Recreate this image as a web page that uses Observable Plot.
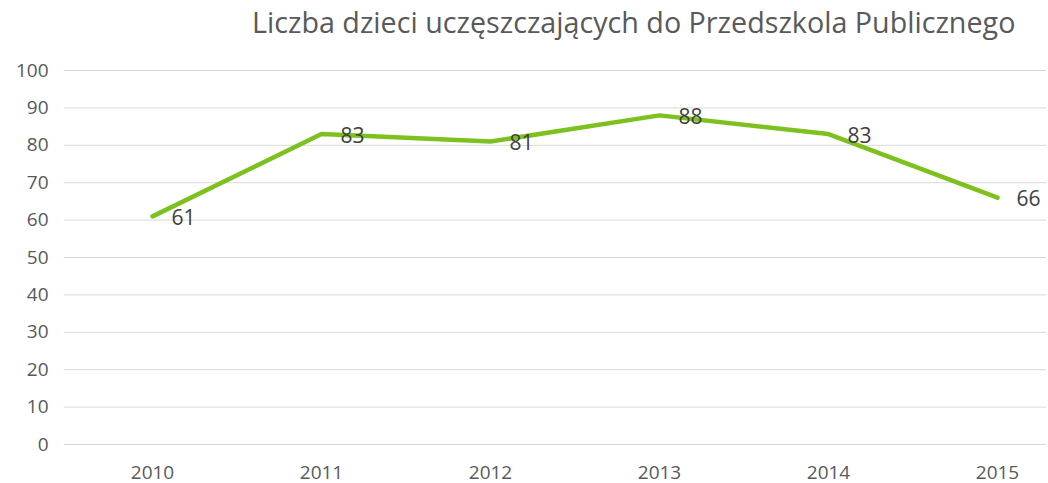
<!DOCTYPE html>
<html>
<head>
<meta charset="utf-8">
<script src="https://cdn.jsdelivr.net/npm/d3@7"></script>
<script src="https://cdn.jsdelivr.net/npm/@observablehq/plot@0.6"></script>
<style>
  html, body { margin: 0; padding: 0; background: #fff; overflow: hidden; }
  #title { height: 45px; width: 1048px; box-sizing: border-box; padding-left: 252px; padding-top: 2px;
           font-family: "Open Sans", sans-serif; font-size: 28.7px; color: #595959; white-space: nowrap; }
  svg { overflow: visible; }
</style>
</head>
<body>
<div id="title">Liczba dzieci uczęszczających do Przedszkola Publicznego</div>
<div id="chart"></div>
<script>
const years = ["2010", "2011", "2012", "2013", "2014", "2015"];
const counts = [61, 83, 81, 88, 83, 66];
const yTicks = [0, 10, 20, 30, 40, 50, 60, 70, 80, 90, 100];

const data = years.map((y, i) => ({year: y, value: counts[i]}));

const chart = Plot.plot({
  width: 1048,
  height: 438,
  marginLeft: 64,
  marginRight: 2,
  marginTop: 25,
  marginBottom: 39,
  style: {fontFamily: "Open Sans, sans-serif", background: "#fff"},
  x: {type: "point", domain: years, padding: 0.395, align: 0.642},
  y: {domain: [0, 100]},
  marks: [
    Plot.ruleY(yTicks, {stroke: "#d9d9d9", strokeWidth: 1}),
    Plot.axisY(yTicks, {tickSize: 0, tickPadding: 16, fontSize: 19, fill: "#595959", label: null}),
    Plot.axisX({tickSize: 0, tickPadding: 21, fontSize: 19, fill: "#595959", label: null}),
    Plot.line(data, {x: "year", y: "value", stroke: "#7dc11f", strokeWidth: 4.5, strokeLinejoin: "round", strokeLinecap: "round"}),
    Plot.text(data, {x: "year", y: "value", text: d => String(d.value), dx: 19, dy: 2, textAnchor: "start", fontSize: 21, fill: "#404040"})
  ]
});
document.getElementById("chart").appendChild(chart);
</script>
</body>
</html>
